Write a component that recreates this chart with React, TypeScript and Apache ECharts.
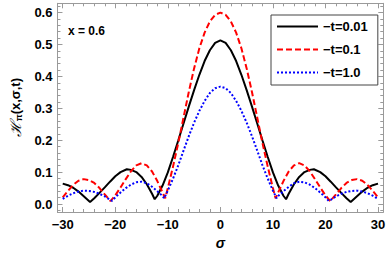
import React, { useEffect, useRef } from "react";
import * as echarts from "echarts";

const xTicks = [-30, -20, -10, 0, 10, 20, 30];
const yTicks = [0, 0.1, 0.2, 0.3, 0.4, 0.5, 0.6];
const seriesNames = ["\u2212t=0.01", "\u2212t=0.1", "\u2212t=1.0"];

const blackSigma = [-30, -29, -28, -27, -26, -24.8, -24, -23, -22, -21, -20, -19, -17.8, -17, -16, -15, -14, -13, -12.5, -12, -11, -10, -9, -8, -7, -6, -5, -4, -3, -2, -1, 0, 1, 2, 3, 4, 5, 6, 7, 8, 9, 10, 11, 12, 12.5, 13, 14, 15, 16, 17, 17.8, 19, 20, 21, 22, 23, 24, 24.8, 26, 27, 28, 29, 30];
const blackValues = [0.064, 0.059, 0.051, 0.039, 0.024, 0.006, 0.018, 0.035, 0.052, 0.070, 0.087, 0.100, 0.109, 0.107, 0.100, 0.085, 0.062, 0.032, 0.015, 0.026, 0.058, 0.099, 0.148, 0.200, 0.253, 0.306, 0.357, 0.405, 0.448, 0.482, 0.505, 0.513, 0.505, 0.482, 0.448, 0.405, 0.357, 0.306, 0.253, 0.200, 0.148, 0.099, 0.058, 0.026, 0.015, 0.032, 0.062, 0.085, 0.100, 0.107, 0.109, 0.100, 0.087, 0.070, 0.052, 0.035, 0.018, 0.006, 0.024, 0.039, 0.051, 0.059, 0.064];

const redSigma = [-30, -29, -28, -27, -26, -25, -24, -23, -22, -20.9, -20, -19, -18, -17, -16, -15, -14, -13, -12, -11, -10.5, -10, -9, -8, -7, -6, -5, -4, -3, -2, -1, 0, 1, 2, 3, 4, 5, 6, 7, 8, 9, 10, 10.5, 11, 12, 13, 14, 15, 16, 17, 18, 19, 20, 20.9, 22, 23, 24, 25, 26, 27, 28, 29, 30];
const redValues = [0.021, 0.041, 0.060, 0.073, 0.078, 0.075, 0.066, 0.050, 0.030, 0.009, 0.027, 0.052, 0.078, 0.103, 0.121, 0.128, 0.121, 0.102, 0.072, 0.036, 0.018, 0.050, 0.118, 0.192, 0.272, 0.352, 0.425, 0.488, 0.537, 0.572, 0.593, 0.600, 0.593, 0.572, 0.537, 0.488, 0.425, 0.352, 0.272, 0.192, 0.118, 0.050, 0.018, 0.036, 0.072, 0.102, 0.121, 0.128, 0.121, 0.103, 0.078, 0.052, 0.027, 0.009, 0.030, 0.050, 0.066, 0.075, 0.078, 0.073, 0.060, 0.041, 0.021];

const blueSigma = [-30, -29, -28, -27, -26, -25, -24, -23, -22, -21, -20.6, -20, -19, -18, -17, -16, -15, -14, -13, -12, -11, -10.7, -10, -9, -8, -7, -6, -5, -4, -3, -2, -1, 0, 1, 2, 3, 4, 5, 6, 7, 8, 9, 10, 10.7, 11, 12, 13, 14, 15, 16, 17, 18, 19, 20, 20.6, 21, 22, 23, 24, 25, 26, 27, 28, 29, 30];
const blueValues = [0.016, 0.026, 0.034, 0.039, 0.042, 0.041, 0.038, 0.032, 0.024, 0.013, 0.010, 0.021, 0.036, 0.050, 0.061, 0.068, 0.070, 0.065, 0.054, 0.040, 0.025, 0.018, 0.042, 0.080, 0.122, 0.168, 0.213, 0.255, 0.292, 0.323, 0.348, 0.363, 0.368, 0.363, 0.348, 0.323, 0.292, 0.255, 0.213, 0.168, 0.122, 0.080, 0.042, 0.018, 0.025, 0.040, 0.054, 0.065, 0.070, 0.068, 0.061, 0.050, 0.036, 0.021, 0.010, 0.013, 0.024, 0.032, 0.038, 0.041, 0.042, 0.039, 0.034, 0.026, 0.016];

const zip = (xs: number[], ys: number[]) => xs.map((x, i) => [x, ys[i]]);

const FONT = "'Liberation Sans', Arial, sans-serif";
const FRAME = "#9a9a9a";

export default function App() {
  const ref = useRef<HTMLDivElement>(null);
  useEffect(() => {
    if (!ref.current) return;
    const chart = echarts.init(ref.current, undefined, { renderer: "svg" });
    const xFmt = (v: number) => {
      const hit = xTicks.find((t) => Math.abs(t - v) < 1e-6);
      return hit === undefined ? "" : String(hit).replace("-", "\u2212");
    };
    const yFmt = (v: number) => {
      const hit = yTicks.find((t) => Math.abs(t - v) < 1e-6);
      return hit === undefined ? "" : hit.toFixed(1);
    };
    const common = {
      type: "value" as const,
      axisLine: { show: true, onZero: false, lineStyle: { color: FRAME, width: 1 } },
      axisTick: { show: true, inside: true, length: 5, lineStyle: { color: FRAME } },
      minorTick: { show: true, splitNumber: 5, length: 3, lineStyle: { color: FRAME } },
      splitLine: { show: false },
    };
    const labelStyle = { color: "#000", fontWeight: "bold" as const, fontSize: 13, fontFamily: FONT };
    chart.setOption({
      animation: false,
      grid: { left: 41.5, top: 3.3, width: 343, height: 210.5 },
      xAxis: [
        {
          ...common, position: "bottom", min: -31, max: 31, splitNumber: 6, minInterval: 10, maxInterval: 10,
          axisLabel: { ...labelStyle, margin: 6, formatter: xFmt },
          name: "\u03c3", nameLocation: "middle", nameGap: 24,
          nameTextStyle: { color: "#000", fontWeight: "bold", fontStyle: "italic", fontSize: 14, fontFamily: FONT },
        },
        {
          ...common, position: "top", min: -31, max: 31, splitNumber: 6, minInterval: 10, maxInterval: 10,
          axisLabel: { show: false },
        },
      ],
      yAxis: [
        {
          ...common, position: "left", min: -0.025, max: 0.629, splitNumber: 6, minInterval: 0.1, maxInterval: 0.1,
          axisLabel: { ...labelStyle, margin: 5, formatter: yFmt },
          name: "{h|\u210b}{s|\u03c0}{n|(x,\u03c3,t)}", nameLocation: "middle", nameGap: 22, nameRotate: 90,
          nameTextStyle: {
            color: "#000", fontFamily: FONT,
            rich: {
              h: { fontSize: 15, fontFamily: "'DejaVu Serif', serif", fontStyle: "italic", lineHeight: 16, color: "#000" },
              s: { fontSize: 9, fontWeight: "bold", lineHeight: 8, verticalAlign: "bottom", color: "#000", fontFamily: FONT },
              n: { fontSize: 13, fontWeight: "bold", lineHeight: 16, color: "#000", fontFamily: FONT },
            },
          },
        },
        {
          ...common, position: "right", min: -0.025, max: 0.629, splitNumber: 6, minInterval: 0.1, maxInterval: 0.1,
          axisLabel: { show: false },
        },
      ],
      legend: {
        orient: "vertical", left: 271, top: 15,
        padding: [5, 10, 6, 5], itemGap: 10, itemWidth: 41, itemHeight: 14,
        borderColor: "#444", borderWidth: 1, borderRadius: 0,
        itemStyle: { opacity: 0 },
        textStyle: { color: "#000", fontWeight: "bold", fontSize: 13, fontFamily: FONT },
        data: seriesNames,
      },
      graphic: [
        {
          type: "text", left: 68, top: 25,
          style: { text: "x = 0.6", fill: "#000", font: `bold 12px ${FONT}` },
        },
      ],
      series: [
        {
          name: seriesNames[0], type: "line", xAxisIndex: 0, yAxisIndex: 0, data: zip(blackSigma, blackValues),
          symbol: "none", lineStyle: { color: "#000", width: 2 }, itemStyle: { color: "#000" },
        },
        {
          name: seriesNames[1], type: "line", xAxisIndex: 0, yAxisIndex: 0, data: zip(redSigma, redValues),
          symbol: "none", lineStyle: { color: "#ff0000", width: 2, type: [6, 3] }, itemStyle: { color: "#ff0000" },
        },
        {
          name: seriesNames[2], type: "line", xAxisIndex: 0, yAxisIndex: 0, data: zip(blueSigma, blueValues),
          symbol: "none", lineStyle: { color: "#0000ff", width: 2, type: [2, 2] }, itemStyle: { color: "#0000ff" },
        },
      ],
    });
    return () => chart.dispose();
  }, []);
  return <div ref={ref} style={{ width: 388, height: 255, position: "absolute", left: 0, top: 0 }} />;
}
